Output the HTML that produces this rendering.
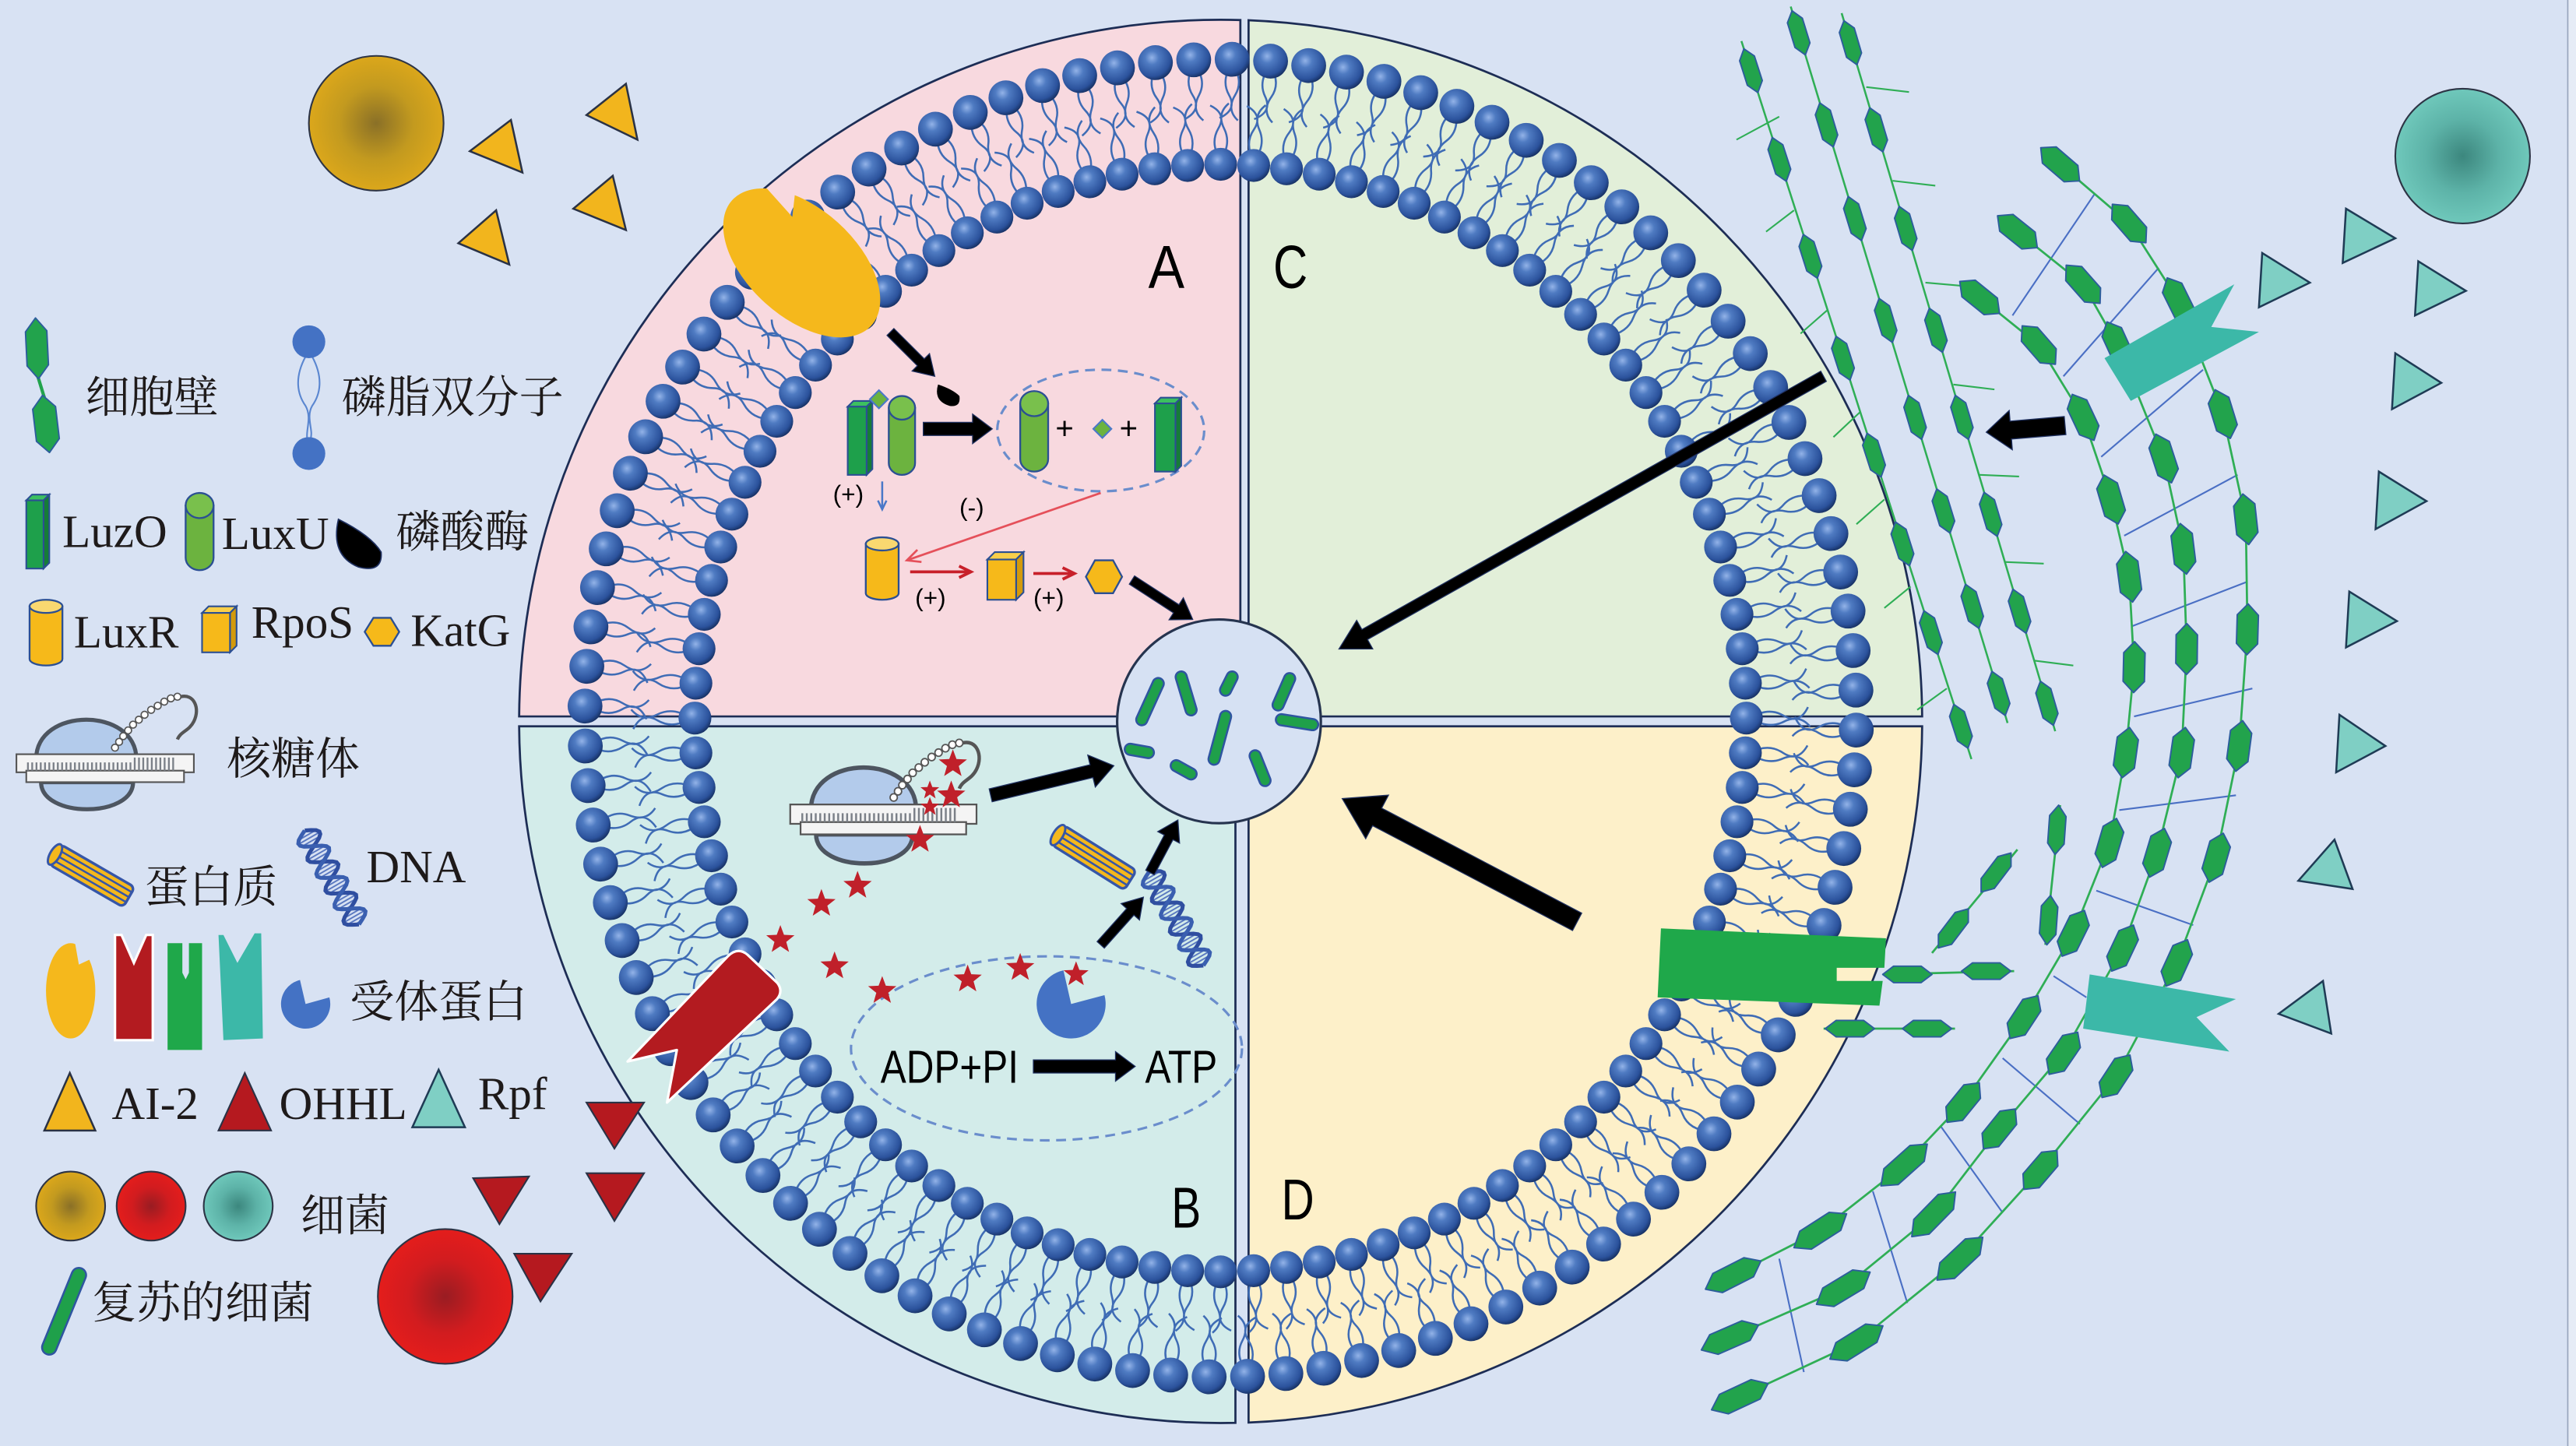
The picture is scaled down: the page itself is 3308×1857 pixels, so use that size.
<!DOCTYPE html>
<html><head><meta charset="utf-8"><title>diagram</title>
<style>
html,body{margin:0;padding:0;background:#d8e2f3;overflow:hidden;}
svg{display:block;}
.cn{font-family:"Liberation Serif","Noto Serif CJK SC",serif;font-size:27px;fill:#1e1a1a;}
.lt{font-family:"Liberation Serif","Noto Serif CJK SC",serif;font-size:28px;fill:#1e1a1a;}
.sn{font-family:"Liberation Sans","Noto Sans CJK SC",sans-serif;fill:#000;}
</style></head><body>
<svg id="svg" xmlns="http://www.w3.org/2000/svg" width="3308" height="1857" viewBox="0 0 1568 880" preserveAspectRatio="none">
<defs>
<radialGradient id="hg" cx="0.4" cy="0.36" r="0.66">
<stop offset="0" stop-color="#93b3e8"/><stop offset="0.3" stop-color="#4f7bc2"/><stop offset="0.8" stop-color="#2b529c"/><stop offset="1" stop-color="#183265"/>
</radialGradient>
<radialGradient id="gGold"><stop offset="0" stop-color="#8a7027"/><stop offset="0.55" stop-color="#c39a1f"/><stop offset="1" stop-color="#dba71b"/></radialGradient>
<radialGradient id="gRed"><stop offset="0" stop-color="#991c22"/><stop offset="0.55" stop-color="#d21c1f"/><stop offset="1" stop-color="#e41d1c"/></radialGradient>
<radialGradient id="gTeal"><stop offset="0" stop-color="#3c877e"/><stop offset="0.55" stop-color="#5db3a8"/><stop offset="1" stop-color="#6fc8bb"/></radialGradient>
<mask id="ym" maskUnits="userSpaceOnUse" x="380" y="60" width="220" height="200"><rect x="380" y="60" width="220" height="200" fill="#fff"/><polygon points="455,129 465,143 437,140 432,128" fill="#000"/></mask>
</defs>
<rect width="1568" height="880" fill="#d8e2f3"/>
<rect x="1563" y="0" width="5" height="880" fill="#e6ecf6"/>
<line x1="1563" y1="0" x2="1563" y2="880" stroke="#98a6bd" stroke-width="0.8"/>

<path d="M316,436 A427,427 0 0 1 755,12.2 L755,436 Z" fill="#f8d9df" stroke="#1d2d55" stroke-width="1.3"/>
<path d="M760,12.3 A427,427 0 0 1 1170,436 L760,436 Z" fill="#e2efd9" stroke="#1d2d55" stroke-width="1.3"/>
<path d="M316,442 L752,442 L752,865.9 A427,427 0 0 1 316,442 Z" fill="#d3ecea" stroke="#1d2d55" stroke-width="1.3"/>
<path d="M760,442 L1170,442 A427,427 0 0 1 760,865.7 Z" fill="#fdf0c9" stroke="#1d2d55" stroke-width="1.3"/>

<g id="bil"></g>

<circle cx="742" cy="439" r="62" fill="#d6e1f3" stroke="#26344f" stroke-width="1.5"/>
<g id="rods"></g>
<ellipse cx="670" cy="262" rx="63" ry="37" fill="none" stroke="#6a8dcc" stroke-width="1.5" stroke-dasharray="6 4"/>
<ellipse cx="637" cy="638" rx="119" ry="56" fill="none" stroke="#6a8dcc" stroke-width="1.5" stroke-dasharray="6 4"/>
<g id="cont"></g>
<g id="walls"></g>

<ellipse cx="488" cy="160" rx="57" ry="33" transform="rotate(42 488 160)" fill="#f5b81c" mask="url(#ym)"/>
<path d="M382,646 L443,582 Q449,576 455,581 L473,598 Q477,603 473,608 L406,671 L412,639 Z" fill="#b31b20" stroke="#ffffff" stroke-width="1.5" stroke-linejoin="round"/>
<path d="M1011,565 L1148,571 L1147,589 L1118,589 L1118,597 L1146,597 L1144,612 L1009,607 Z" fill="#1fa84a"/>
<polygon points="1281,218 1360,173 1346,199 1375,202 1297,244" fill="#3cb8a8"/>
<polygon points="1272,593 1361,608 1337,619 1357,640 1268,626" fill="#3cb8a8"/>

<circle cx="229" cy="75" r="41" fill="url(#gGold)" stroke="#2d3445" stroke-width="1"/>
<circle cx="1499" cy="95" r="41" fill="url(#gTeal)" stroke="#2d3445" stroke-width="1"/>
<circle cx="271" cy="789" r="41" fill="url(#gRed)" stroke="#2d3445" stroke-width="1"/>
<circle cx="43" cy="734" r="21" fill="url(#gGold)" stroke="#2d3445" stroke-width="1"/>
<circle cx="92" cy="734" r="21" fill="url(#gRed)" stroke="#2d3445" stroke-width="1"/>
<circle cx="145" cy="734" r="21" fill="url(#gTeal)" stroke="#2d3445" stroke-width="1"/>

<g fill="#f2b51d" stroke="#2a3245" stroke-width="1.2">
<polygon points="286,92 311,73 318,105"/>
<polygon points="357,70 381,51 388,85"/>
<polygon points="349,127 373,107 381,140"/>
<polygon points="279,148 302,128 310,161"/>
<polygon points="42.5,653 58,688 27,688"/>
</g>
<g fill="#b5191f" stroke="#2a3245" stroke-width="1">
<polygon points="357,671 392,671 374,699"/>
<polygon points="288,717 322,716 304,745"/>
<polygon points="357,714 392,714 374,743"/>
<polygon points="313,763 348,763 329,792"/>
<polygon points="149,653 165,688 133,688"/>
</g>
<g fill="#7fcfc4" stroke="#1f3b55" stroke-width="1.2">
<polygon points="1428,127 1458,145 1426,160"/>
<polygon points="1377,154 1406,172 1375,187"/>
<polygon points="1472,159 1501,177 1470,192"/>
<polygon points="1458,215 1486,233 1456,249"/>
<polygon points="1448,287 1477,305 1446,322"/>
<polygon points="1430,360 1459,378 1428,394"/>
<polygon points="1424,435 1452,454 1422,470"/>
<polygon points="1421,511 1432,541 1399,536"/>
<polygon points="1414,597 1419,629 1387,617"/>
<polygon points="267,651 283,686 251,686"/>
</g>

<!-- legend receptors -->
<ellipse cx="43" cy="603" rx="15" ry="29" fill="#f5b81c"/>
<polygon points="45,570 48,587 61,581 60,568" fill="#d8e2f3"/>
<path d="M70,569 L74,569 L81.5,586 L89,569 L93,569 L93,633 L70,633 Z" fill="#b31b20" stroke="#ffffff" stroke-width="1.5"/>
<path d="M102,574 L111,574 L111,592 L113,596 L115,592 L115,574 L123,574 L123,639 L102,639 Z" fill="#1fa84a"/>
<path d="M133,569 L136,569 L144.5,586 L155,568 L159,568 L160,632 L136,633 Z" fill="#3cb8a8"/>

<g id="arr"></g>

<!-- text -->
<text class="cn" x="52" y="251">细胞壁</text>
<text class="cn" x="208" y="251">磷脂双分子</text>
<text class="lt" x="38" y="333">LuzO</text>
<text class="lt" x="135" y="334">LuxU</text>
<text class="cn" x="241" y="333">磷酸酶</text>
<text class="lt" x="45" y="394">LuxR</text>
<text class="lt" x="153" y="388">RpoS</text>
<text class="lt" x="250" y="393">KatG</text>
<text class="cn" x="138" y="471">核糖体</text>
<text class="cn" x="88" y="549">蛋白质</text>
<text class="lt" x="223" y="537" font-size="27">DNA</text>
<text class="cn" x="213" y="619">受体蛋白</text>
<text class="lt" x="68" y="681" font-size="27">AI-2</text>
<text class="lt" x="170" y="681" font-size="27">OHHL</text>
<text class="lt" x="291" y="675">Rpf</text>
<text class="cn" x="183" y="749">细菌</text>
<text class="cn" x="56" y="802">复苏的细菌</text>

<text class="sn" x="699" y="175" font-size="37" textLength="22" lengthAdjust="spacingAndGlyphs">A</text>
<text class="sn" x="775" y="175" font-size="37" textLength="21" lengthAdjust="spacingAndGlyphs">C</text>
<text class="sn" x="713" y="747" font-size="35" textLength="18" lengthAdjust="spacingAndGlyphs">B</text>
<text class="sn" x="780" y="742" font-size="35" textLength="20" lengthAdjust="spacingAndGlyphs">D</text>
<text class="sn" x="536" y="659" font-size="28" textLength="84" lengthAdjust="spacingAndGlyphs">ADP+PI</text>
<text class="sn" x="697" y="659" font-size="28" textLength="44" lengthAdjust="spacingAndGlyphs">ATP</text>
<text class="sn" x="507" y="306" font-size="15">(+)</text>
<text class="sn" x="584" y="314" font-size="15">(-)</text>
<text class="sn" x="557" y="369" font-size="15">(+)</text>
<text class="sn" x="629" y="369" font-size="15">(+)</text>
<text class="sn" x="648" y="267" font-size="19" text-anchor="middle">+</text>
<text class="sn" x="687" y="267" font-size="19" text-anchor="middle">+</text>
</svg>
<script>
(function(){
var NS='http://www.w3.org/2000/svg';
function el(t,a,p){var e=document.createElementNS(NS,t);for(var k in a)e.setAttribute(k,a[k]);p.appendChild(e);return e;}
function f1(v){return Math.round(v*10)/10;}
function pts(a){return a.map(function(q){return f1(q[0])+','+f1(q[1]);}).join(' ');}
function $(id){return document.getElementById(id);}

/* bilayer */
(function(){
 var g=$('bil'),CX=743,CY=437;
 function P(f,t){var rx=320+f*67,ry=337+f*64;return [CX+rx*Math.cos(t),CY+ry*Math.sin(t)];}
 function S(p){return f1(p[0])+','+f1(p[1]);}
 var d='',NO=104,NI=100,i,t;
 for(i=0;i<NO;i++){t=2*Math.PI*(i+0.3)/NO;
  d+='M'+S(P(0.96,t))+'Q'+S(P(0.8,t+0.02))+' '+S(P(0.66,t+0.006))+'T'+S(P(0.42,t+0.012));
  d+='M'+S(P(0.96,t))+'Q'+S(P(0.8,t-0.018))+' '+S(P(0.66,t-0.004))+'T'+S(P(0.44,t-0.02));
 }
 for(i=0;i<NI;i++){t=2*Math.PI*i/NI;
  d+='M'+S(P(0.04,t))+'Q'+S(P(0.2,t+0.02))+' '+S(P(0.34,t+0.006))+'T'+S(P(0.58,t+0.014));
  d+='M'+S(P(0.04,t))+'Q'+S(P(0.2,t-0.02))+' '+S(P(0.34,t-0.004))+'T'+S(P(0.56,t-0.018));
 }
 el('path',{d:d,fill:'none',stroke:'#3f6cb5','stroke-width':1.2},g);
 for(i=0;i<NO;i++){var p=P(1,2*Math.PI*(i+0.3)/NO);el('circle',{cx:f1(p[0]),cy:f1(p[1]),r:10.6,fill:'url(#hg)'},g);}
 for(i=0;i<NI;i++){var q=P(0,2*Math.PI*i/NI);el('circle',{cx:f1(q[0]),cy:f1(q[1]),r:10,fill:'url(#hg)'},g);}
})();

/* helpers */
function hexP(cx,cy,ang,L,W){var a=Math.min(L*0.22,W*0.7),c=Math.cos(ang),s=Math.sin(ang);
 var b=[[-L/2,0],[-L/2+a,-W/2],[L/2-a,-W/2],[L/2,0],[L/2-a,W/2],[-L/2+a,W/2]];
 return b.map(function(p){return f1(cx+p[0]*c-p[1]*s)+','+f1(cy+p[0]*s+p[1]*c);}).join(' ');}
function hex(g,cx,cy,ang,L,W,fill){el('polygon',{points:hexP(cx,cy,ang,L,W),fill:fill||'#22a34c',stroke:'#2d5d9c','stroke-width':0.9,'stroke-linejoin':'round'},g);}
function rod(g,x1,y1,x2,y2,w){el('line',{x1:x1,y1:y1,x2:x2,y2:y2,stroke:'#2f55a0','stroke-width':w,'stroke-linecap':'round'},g);
 el('line',{x1:x1,y1:y1,x2:x2,y2:y2,stroke:'#1fa04a','stroke-width':w-2.4,'stroke-linecap':'round'},g);}
function cyl(g,x,y,w,h,fill,top,k){var ry=w*k,rx=w/2;
 el('path',{d:'M'+x+','+(y+ry)+'V'+(y+h-ry)+'A'+rx+','+ry+' 0 0 0 '+(x+w)+','+(y+h-ry)+'V'+(y+ry)+'Z',fill:fill,stroke:'#2b4f93','stroke-width':1.1},g);
 el('ellipse',{cx:x+rx,cy:y+ry,rx:rx,ry:ry,fill:top,stroke:'#2b4f93','stroke-width':1.1},g);}
function prism(g,x,y,w,h,d,fill,side,top){
 el('polygon',{points:pts([[x,y+d],[x+d,y],[x+w,y],[x+w-d,y+d]]),fill:top,stroke:'#2b4f93','stroke-width':1},g);
 el('polygon',{points:pts([[x+w-d,y+d],[x+w,y],[x+w,y+h-d],[x+w-d,y+h]]),fill:side,stroke:'#2b4f93','stroke-width':1},g);
 el('rect',{x:x,y:y+d,width:w-d,height:h-d,fill:fill,stroke:'#2b4f93','stroke-width':1},g);}
function khex(g,x,y,w,h){el('polygon',{points:pts([[x,y+h/2],[x+w*0.25,y],[x+w*0.75,y],[x+w,y+h/2],[x+w*0.75,y+h],[x+w*0.25,y+h]]),fill:'#f6b91a',stroke:'#2b4f93','stroke-width':1.1},g);}
function diam(g,cx,cy,s){el('polygon',{points:pts([[cx-s,cy],[cx,cy-s],[cx+s,cy],[cx,cy+s]]),fill:'#6cb33f',stroke:'#4a78c8','stroke-width':1},g);}
function bundle(g,cx,cy,ang){var b=el('g',{transform:'translate('+cx+','+cy+') rotate('+ang+')'},g);
 el('rect',{x:-26,y:-7,width:52,height:14,rx:3,fill:'#f5b81c',stroke:'#3656a8','stroke-width':1.6},b);
 [-3.5,0,3.5].forEach(function(y){el('line',{x1:-26,y1:y,x2:26,y2:y,stroke:'#3656a8','stroke-width':1.2},b);});
 el('ellipse',{cx:-26,cy:0,rx:3,ry:7,fill:'#f5b81c',stroke:'#3656a8','stroke-width':1.4},b);}
function dna(g,cx,cy,ang,len,amp){var b=el('g',{transform:'translate('+cx+','+cy+') rotate('+ang+')'},g);
 var a='',c='',r='',i,x,y;
 for(i=0;i<=40;i++){x=-len/2+len*i/40;y=amp*Math.sin(x*2*Math.PI/22);a+=(i?'L':'M')+f1(x)+','+f1(y);c+=(i?'L':'M')+f1(x)+','+f1(-y);}
 for(x=-len/2+1;x<len/2;x+=2.2){y=amp*Math.sin(x*2*Math.PI/22);r+='M'+f1(x)+','+f1(y)+'L'+f1(x)+','+f1(-y);}
 el('path',{d:r,stroke:'#5a78c0','stroke-width':0.9,fill:'none'},b);
 el('path',{d:a,stroke:'#2f4ea0','stroke-width':2.4,fill:'none'},b);
 el('path',{d:c,stroke:'#3a5fb0','stroke-width':2.4,fill:'none'},b);}
function ribo(g,tr){var b=el('g',{transform:tr},g);
 el('path',{d:'M22,462 C22,430 83,430 83,462 Z',fill:'#b3cbeb',stroke:'#4d5560','stroke-width':2.5},b);
 el('path',{d:'M25,476 C25,498 81,498 81,476 Z',fill:'#b3cbeb',stroke:'#4d5560','stroke-width':2.5},b);
 el('rect',{x:10,y:459,width:108,height:11,fill:'#f4f4f4',stroke:'#555','stroke-width':1},b);
 el('rect',{x:16,y:469,width:96,height:7,fill:'#f4f4f4',stroke:'#555','stroke-width':1},b);
 var d='';for(var x=17;x<106;x+=2.6){d+='M'+f1(x)+',469V'+(x>80?461:464);}
 el('path',{d:d,stroke:'#7b8088','stroke-width':1.1},b);
 var beads=[[70,455],[72.5,451.5],[75,448],[78,444.5],[81,441],[84.5,438],[88,435],[92,432],[96,429.5],[100,427],[104,425],[108,424]];
 beads.forEach(function(p){el('circle',{cx:p[0],cy:p[1],r:2.1,fill:'#fff',stroke:'#555','stroke-width':0.8},b);});
 el('path',{d:'M110,424 C118,422 122,431 118,439 C115,445 110,445 108,450',fill:'none',stroke:'#555','stroke-width':2},b);}
function star(g,cx,cy,R){var p=[];for(var i=0;i<10;i++){var r=i%2?R*0.42:R,a=-Math.PI/2+i*Math.PI/5;p.push([cx+r*Math.cos(a),cy+r*Math.sin(a)]);}
 el('polygon',{points:pts(p),fill:'#c0202a'},g);}
function arrow(g,x1,y1,x2,y2,w,hw,hl){var dx=x2-x1,dy=y2-y1,L=Math.hypot(dx,dy),ux=dx/L,uy=dy/L,nx=-uy,ny=ux,bx=x2-ux*hl,by=y2-uy*hl;
 el('polygon',{points:pts([[x1+nx*w/2,y1+ny*w/2],[bx+nx*w/2,by+ny*w/2],[bx+nx*hw/2,by+ny*hw/2],[x2,y2],[bx-nx*hw/2,by-ny*hw/2],[bx-nx*w/2,by-ny*w/2],[x1-nx*w/2,y1-ny*w/2]]),fill:'#000',stroke:'#1f3060','stroke-width':0.6},g);}
function oarr(g,x1,y1,x2,y2,col,w,hs){el('line',{x1:x1,y1:y1,x2:x2,y2:y2,stroke:col,'stroke-width':w},g);
 var a=Math.atan2(y2-y1,x2-x1);
 el('polyline',{points:pts([[x2-hs*Math.cos(a-0.45),y2-hs*Math.sin(a-0.45)],[x2,y2],[x2-hs*Math.cos(a+0.45),y2-hs*Math.sin(a+0.45)]]),fill:'none',stroke:col,'stroke-width':w},g);}

/* rods */
(function(){var g=$('rods');
 [[705,416,695,438],[719,412,725,432],[750,412,746,420],[785,413,778,429],[780,438,799,441],[746,436,739,462],[688,456,699,458],[716,466,725,471],[764,460,770,475]].forEach(function(r){rod(g,r[0],r[1],r[2],r[3],8);});
})();

/* content */
(function(){var g=$('cont');
 el('line',{x1:23,y1:229,x2:27,y2:242,stroke:'#22a34c','stroke-width':2},g);
 hex(g,22.5,212,1.52,37,13);hex(g,28,258,1.45,35,14);
 el('path',{d:'M186,217 C179,230 181,240 186,247 C190,254 186,262 187,267 M190,217 C197,230 195,240 190,247 C186,254 191,262 189,267',fill:'none',stroke:'#5a86d0','stroke-width':1},g);
 el('circle',{cx:188,cy:208,r:10,fill:'#4472c4'},g);
 el('circle',{cx:188,cy:276,r:10,fill:'#4472c4'},g);
 prism(g,16,301,14,45,3.5,'#1ea04b','#167c37','#3cc060');
 cyl(g,113,300,17,47,'#6cb33f','#79c04c',0.45);
 el('path',{d:'M206,316 Q201,338 218,345 Q233,349 232,336 Q226,326 206,316 Z',fill:'#000',stroke:'#1f3060','stroke-width':0.8},g);
 cyl(g,18,365,20,40,'#f6b91a','#f9d870',0.2);
 prism(g,123,369,21,28,4,'#f6b91a','#d39a0c','#f9cf4a');
 khex(g,222,376,21,17);
 ribo(g,'translate(0,0)');
 bundle(g,56,533,30);
 dna(g,202,534,60,66,7.5);
 el('path',{d:'M186,611 L200.5,607 A15,15 0 1 1 182.6,596.4 Z',fill:'#4472c4'},g);
 rod(g,48,776,30,820,10);
 prism(g,516,244,15,45,3.5,'#1ea04b','#167c37','#3cc060');
 cyl(g,541,241,16,48,'#6cb33f','#79c04c',0.45);
 diam(g,535,243,5.5);
 cyl(g,621,238,17,49,'#6cb33f','#79c04c',0.45);
 diam(g,671,261,5.5);
 prism(g,703,242,16,45,3.5,'#1ea04b','#167c37','#3cc060');
 cyl(g,527,327,20,38,'#f6b91a','#f9d870',0.2);
 prism(g,601,336,22,29,4.5,'#f6b91a','#d39a0c','#f9cf4a');
 khex(g,661,341,22,20);
 el('path',{d:'M571,234 Q568,244 578,247 Q585,248 584,241 Q580,237 571,234 Z',fill:'#000'},g);
 oarr(g,670,300,552,341,'#e5505a',1.3,9);
 oarr(g,537,293,537,310,'#4a78c8',1.2,6);
 oarr(g,554,348,591,348,'#c8202a',1.8,8);
 oarr(g,629,349,654,349,'#c8202a',1.8,8);
 ribo(g,'translate(481,450) scale(1.05,1.07) translate(-10,-422)');
 bundle(g,666,522,32);
 dna(g,716,559,60,66,7.5);
 el('path',{d:'M652,611 L672.3,605.6 A21,21 0 1 1 647.3,590.5 Z',fill:'#4472c4'},g);
})();

/* walls */
(function(){var g=$('walls');
 var sticks=[[1057,85,1083,71],[1075,141,1092,128],[1096,203,1112,189],[1116,266,1132,251],[1130,319,1147,304],[1147,370,1163,357],[1167,432,1185,419],[1136,53,1162,56],[1152,110,1178,113],[1172,172,1195,174],[1189,234,1214,237],[1205,289,1229,290],[1220,342,1244,343],[1238,402,1262,405]];
 sticks.forEach(function(s){el('line',{x1:s[0],y1:s[1],x2:s[2],y2:s[3],stroke:'#2fae55','stroke-width':1},g);});
 var ch=[[1060,25,1200,462,[43,97,156,218,277,331,385,442]],[1090,4,1222,440,[20,76,133,195,254,311,369,422]],[1121,8,1251,445,[26,79,139,201,254,313,372,428]]];
 ch.forEach(function(c){
  el('line',{x1:c[0],y1:c[1],x2:c[2],y2:c[3],stroke:'#2fae55','stroke-width':1.2},g);
  var ang=Math.atan2(c[3]-c[1],c[2]-c[0]);
  c[4].forEach(function(y){var x=c[0]+(y-c[1])*(c[2]-c[0])/(c[3]-c[1]);hex(g,x,y,ang,28,9.5);});
 });
 var xl=[[1275,118,1225,192],[1314,163,1256,229],[1341,225,1279,278],[1362,289,1293,326],[1368,354,1298,381],[1371,419,1299,436],[1361,484,1290,493],[1335,563,1276,542],[1270,607,1250,594],[1266,684,1219,644],[1219,738,1181,685],[1161,793,1140,725],[1098,835,1083,766]];
 xl.forEach(function(s){el('line',{x1:s[0],y1:s[1],x2:s[2],y2:s[3],stroke:'#4a6fc4','stroke-width':1},g);});
 var outer=[[1254,100],[1296,136],[1326,183],[1353,252],[1367,316],[1368,383],[1363,454],[1349,522],[1325,586],[1288,655],[1242,712],[1193,766],[1130,817],[1059,850]];
 var mid=[[1228,141],[1268,173],[1289,210],[1317,279],[1329,334],[1331,395],[1328,458],[1313,519],[1292,577],[1256,641],[1217,687],[1177,739],[1122,784],[1053,814]];
 var inner=[[1205,181],[1241,210],[1268,254],[1285,304],[1296,351],[1299,406],[1294,458],[1284,513],[1262,568],[1232,619],[1195,671],[1159,709],[1108,749],[1055,776]];
 var arcs=[outer,mid,inner];
 arcs.forEach(function(a){var d='M'+a[0][0]+','+a[0][1];for(var i=1;i<a.length;i++)d+='L'+a[i][0]+','+a[i][1];
  el('path',{d:d,fill:'none',stroke:'#2fae55','stroke-width':1.3},g);});
 arcs.forEach(function(a){for(var i=0;i<a.length;i++){var p=a[Math.max(0,i-1)],n=a[Math.min(a.length-1,i+1)];
  var ang=Math.atan2(n[1]-p[1],n[0]-p[0]);var L=i>=a.length-3?38:31;hex(g,a[i][0],a[i][1],ang,L,13);}});
 [[1146,593,1226,591],[1110,626,1190,626],[1176,580,1228,517],[1245,575,1254,490]].forEach(function(s){el('line',{x1:s[0],y1:s[1],x2:s[2],y2:s[3],stroke:'#2fae55','stroke-width':1.3},g);});
 [[1161,593,0],[1209,591,0],[1126,626,0],[1173,626,0],[1189,565,-0.92],[1215,531,-0.92],[1247,560,-1.5],[1252,505,-1.5]].forEach(function(h){hex(g,h[0],h[1],h[2],30,10);});
})();

/* arrows & stars */
(function(){var g=$('arr');
 [[580,465,9],[579,484,9],[566,481,6],[566,491,6],[560,511,9],[522,539,9],[500,550,9],[475,572,9],[508,588,9],[537,603,9],[589,596,9],[621,589,9],[655,593,8]].forEach(function(s){star(g,s[0],s[1],s[2]);});
 arrow(g,542,202,569,229,6,15,12);
 arrow(g,562,261,604,261,8,18,12);
 arrow(g,689,353,726,377,6,16,12);
 arrow(g,603,484,678,466,8,20,14);
 arrow(g,670,575,696,546,6,15,12);
 arrow(g,700,531,717,499,6,15,12);
 arrow(g,629,649,691,649,8,18,12);
 arrow(g,1110,229,815,395,7,20,18);
 arrow(g,960,561,817,486,12,30,24);
 arrow(g,1257,259,1209,263,11,24,15);
})();
})();
</script>
</body></html>
